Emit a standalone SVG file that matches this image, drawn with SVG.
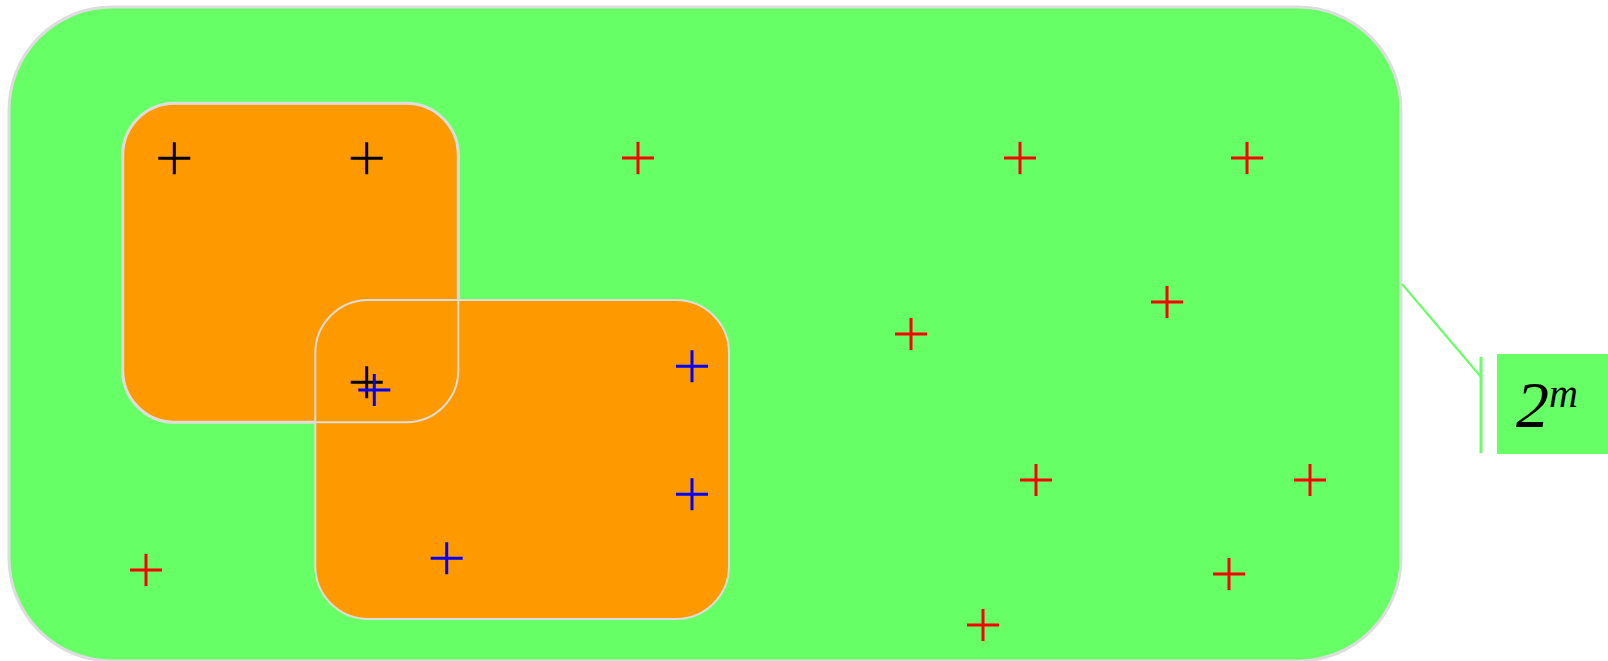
<svg xmlns="http://www.w3.org/2000/svg" width="1608" height="661" viewBox="0 0 1608 661">
<defs>
<style>
.outer{fill:#66ff66;stroke:#dddddd;stroke-width:3}
.box{fill:#ff9900;stroke:#dddddd}
.line{stroke:#66ff66;fill:none}
.k{stroke:#000000;stroke-width:3;fill:none}
.b{stroke:#0000ff;stroke-width:3;fill:none}
.r{stroke:#ff0000;stroke-width:3;fill:none}
</style>
<path id="cross" d="M-16 0H16M0-16V16"/>
</defs>
<g id="space">
<rect class="outer" x="9" y="7" width="1392" height="654" rx="103" ry="103"/>
</g>
<g id="set1">
<rect class="box" x="122.7" y="103.3" width="335.6" height="319" rx="52" ry="52" stroke-width="3"/>
</g>
<g id="set2">
<rect class="box" x="315.3" y="300" width="413.7" height="319" rx="53" ry="53" stroke-width="2"/>
<rect x="122.7" y="103.3" width="335.6" height="319" rx="52" ry="52" fill="none" stroke="#dddddd" stroke-width="2"/>
</g>
<g id="points-black">
<use href="#cross" class="k" x="174.3" y="158.3"/>
<use href="#cross" class="k" x="366.7" y="158.3"/>
<use href="#cross" class="k" x="366.7" y="382.3"/>
</g>
<g id="points-blue">
<use href="#cross" class="b" x="374.3" y="390"/>
<use href="#cross" class="b" x="692" y="366.3"/>
<use href="#cross" class="b" x="692" y="494.3"/>
<use href="#cross" class="b" x="446.7" y="558.3"/>
</g>
<g id="points-red">
<use href="#cross" class="r" x="146" y="570"/>
<use href="#cross" class="r" x="638" y="158"/>
<use href="#cross" class="r" x="1020" y="158"/>
<use href="#cross" class="r" x="1247" y="158"/>
<use href="#cross" class="r" x="911" y="334"/>
<use href="#cross" class="r" x="1167" y="302"/>
<use href="#cross" class="r" x="1036" y="480"/>
<use href="#cross" class="r" x="1310" y="480"/>
<use href="#cross" class="r" x="1229" y="574"/>
<use href="#cross" class="r" x="983" y="625"/>
</g>
<g id="connectors">
<line class="line" x1="1402" y1="284" x2="1481" y2="377" stroke-width="2"/>
<line class="line" x1="1481" y1="357" x2="1481" y2="453" stroke-width="3"/>
</g>
<g id="label">
<rect x="1497" y="354" width="111" height="100" fill="#66ff66"/>
<text x="1516" y="427" font-family="Liberation Serif, serif" font-style="italic" font-size="66" fill="#000000">2<tspan font-size="40" dy="-20">m</tspan></text>
</g>
</svg>
